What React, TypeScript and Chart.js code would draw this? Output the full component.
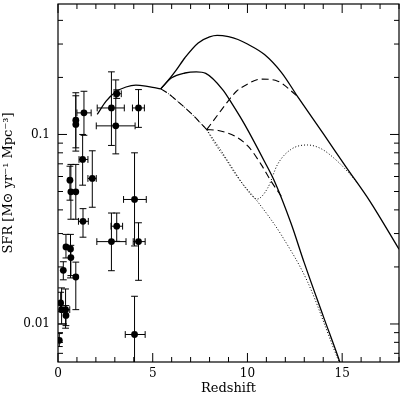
import React, { useEffect, useRef } from 'react';
import { Chart, registerables } from 'chart.js';

Chart.register(...registerables);

// ---- tick labels ----
const xTickLabels = [0, 5, 10, 15];
const yTickLabels = [0.01, 0.1];

// ---- model curves (redshift, SFR) ----
// common rising part (all models coincide)
const commonZ = [2.07, 2.54, 3.06, 3.59, 4.11, 4.63, 5.16, 5.42];
const commonSFR = [0.1276, 0.15, 0.168, 0.178, 0.182, 0.18, 0.176, 0.174];

// solid, upper branch
const solidUpZ = [5.42, 5.7, 6.2, 6.7, 7.4, 8.0, 8.4, 9.0, 9.5, 10.0, 10.9, 11.8, 12.64, 14.03, 15.2, 16.46, 18];
const solidUpSFR = [0.174, 0.187, 0.216, 0.254, 0.304, 0.327, 0.333, 0.328, 0.317, 0.3, 0.264, 0.212, 0.159, 0.1, 0.0675, 0.0445, 0.0248];

// solid, lower branch
const solidLowZ = [5.42, 6.0, 6.7, 7.3, 7.8, 8.7, 9.2, 9.85, 10.9, 11.45, 12.3, 13.0, 14.0, 14.9, 15.2];
const solidLowSFR = [0.174, 0.199, 0.211, 0.214, 0.21, 0.172, 0.1445, 0.113, 0.072, 0.056, 0.034, 0.021, 0.011, 0.0062, 0.005];

// declining tail shared by dashed and dotted models
const tailZ = [5.42, 5.8, 6.3, 7.07, 7.85];
const tailSFR = [0.174, 0.165, 0.15, 0.128, 0.106];

// dashed, upper branch
const dashUpZ = [7.85, 8.46, 8.98, 9.42, 9.9, 10.72, 11.6, 12.64];
const dashUpSFR = [0.106, 0.128, 0.15, 0.169, 0.182, 0.196, 0.191, 0.159];

// dashed, lower branch
const dashLowZ = [7.85, 8.46, 9.33, 10.03, 10.72, 11.24, 11.8];
const dashLowSFR = [0.106, 0.105, 0.098, 0.0868, 0.0695, 0.0568, 0.047];

// dotted, branch with a dip and second peak
const dotDipZ = [7.85, 8.63, 9.42, 10.03, 10.5, 11.07, 11.59, 12.29, 13.16, 13.9, 14.7, 15.3, 15.8];
const dotDipSFR = [0.106, 0.0816, 0.0615, 0.0502, 0.0456, 0.0522, 0.0695, 0.0833, 0.088, 0.084, 0.073, 0.0635, 0.0555];

// dotted, falling branch
const dotLowZ = [7.85, 8.3, 8.9, 9.5, 10.4, 11.24, 11.77, 13.16, 14.81, 15.1];
const dotLowSFR = [0.106, 0.089, 0.073, 0.059, 0.046, 0.0356, 0.0297, 0.0168, 0.0064, 0.0055];

// ---- observations ----
const ptZ = [0.07, 0.14, 0.19, 0.40, 0.42, 0.28, 0.42, 0.66, 0.68, 0.94, 0.68, 0.94, 0.63, 0.94, 0.94, 1.37, 1.30, 1.81, 1.32, 2.82, 3.10, 4.04, 4.25, 4.04, 2.82, 4.25, 3.05, 3.10];
const ptSFR = [0.0082, 0.0129, 0.0119, 0.0119, 0.0111, 0.0192, 0.0255, 0.0249, 0.0224, 0.0177, 0.0498, 0.0498, 0.0574, 0.119, 0.113, 0.130, 0.0738, 0.0586, 0.0348, 0.0272, 0.0328, 0.0454, 0.0272, 0.0088, 0.138, 0.138, 0.111, 0.164];
const ptSFRLo = [0.0076, 0.0116, 0.0100, 0.0095, 0.0098, 0.0171, 0.0223, 0.0175, 0.018, 0.0119, 0.0357, 0.0357, 0.045, 0.0817, 0.085, 0.099, 0.054, 0.0413, 0.0287, 0.0191, 0.0273, 0.0258, 0.017, 0.004, 0.0875, 0.109, 0.079, 0.155];
const ptSFRHi = [0.0089, 0.0147, 0.0155, 0.0153, 0.0125, 0.0213, 0.0297, 0.0297, 0.026, 0.0212, 0.0695, 0.0695, 0.068, 0.166, 0.160, 0.169, 0.100, 0.082, 0.0406, 0.0385, 0.0385, 0.080, 0.0342, 0.014, 0.214, 0.1725, 0.194, 0.172];
const ptZLo: (number | null)[] = [null, null, null, 0.15, null, null, null, null, null, null, null, null, null, null, null, 1.0, 1.11, 1.58, 1.08, 2.05, 2.8, 3.46, 3.97, 3.55, 2.07, 3.93, 2.02, 2.96];
const ptZHi: (number | null)[] = [null, null, null, 0.62, null, null, null, null, null, null, null, null, null, null, null, 1.75, 1.58, 2.02, 1.6, 3.59, 3.41, 4.66, 4.6, 4.6, 3.5, 4.56, 4.07, 3.34];

const toXY = (zs: number[], vs: number[]) => zs.map((z, i) => ({ x: z, y: vs[i] }));

const FONT = 'DejaVu Serif';

const errorBarPlugin = {
  id: 'errorBars',
  beforeDatasetsDraw(chart: any) {
    const { ctx, chartArea: a, scales } = chart;
    const x = scales.x, y = scales.y;
    const cap = 3.4;
    ctx.save();
    ctx.beginPath();
    ctx.rect(a.left, a.top, a.right - a.left, a.bottom - a.top);
    ctx.clip();
    ctx.strokeStyle = '#000';
    ctx.lineWidth = 1;
    ctx.beginPath();
    for (let i = 0; i < ptZ.length; i++) {
      const px = x.getPixelForValue(ptZ[i]);
      const py = y.getPixelForValue(ptSFR[i]);
      const yt = y.getPixelForValue(ptSFRHi[i]);
      const yb = y.getPixelForValue(ptSFRLo[i]);
      ctx.moveTo(px, yt); ctx.lineTo(px, yb);
      ctx.moveTo(px - cap, yt); ctx.lineTo(px + cap, yt);
      ctx.moveTo(px - cap, yb); ctx.lineTo(px + cap, yb);
      const zl = ptZLo[i], zh = ptZHi[i];
      if (zl != null && zh != null) {
        const xl = x.getPixelForValue(zl);
        const xr = x.getPixelForValue(zh);
        ctx.moveTo(xl, py); ctx.lineTo(xr, py);
        ctx.moveTo(xl, py - cap); ctx.lineTo(xl, py + cap);
        ctx.moveTo(xr, py - cap); ctx.lineTo(xr, py + cap);
      }
    }
    ctx.stroke();
    ctx.restore();
  },
};

const framePlugin = {
  id: 'frameTicks',
  afterDatasetsDraw(chart: any) {
    const { ctx, chartArea: a, scales } = chart;
    const x = scales.x, y = scales.y;
    ctx.save();
    ctx.strokeStyle = '#000';
    ctx.lineWidth = 1.2;
    ctx.strokeRect(a.left, a.top, a.right - a.left, a.bottom - a.top);
    ctx.lineWidth = 1;
    ctx.beginPath();
    for (let v = Math.ceil(x.min); v <= x.max; v++) {
      const px = x.getPixelForValue(v);
      const len = xTickLabels.includes(v) ? 9 : 5;
      ctx.moveTo(px, a.bottom); ctx.lineTo(px, a.bottom - len);
      ctx.moveTo(px, a.top); ctx.lineTo(px, a.top + len);
    }
    for (let e = -3; e <= 0; e++) {
      for (let m = 1; m <= 9; m++) {
        const v = m * Math.pow(10, e);
        if (v < y.min || v > y.max) continue;
        const py = y.getPixelForValue(v);
        const len = m === 1 ? 9 : 5;
        ctx.moveTo(a.left, py); ctx.lineTo(a.left + len, py);
        ctx.moveTo(a.right, py); ctx.lineTo(a.right - len, py);
      }
    }
    ctx.stroke();
    ctx.restore();
  },
};

const lineDs = (zs: number[], vs: number[], dash: number[], width: number) => ({
  type: 'line' as const,
  data: toXY(zs, vs),
  borderColor: '#000',
  borderWidth: width,
  borderDash: dash,
  pointRadius: 0,
  fill: false,
  cubicInterpolationMode: 'monotone' as const,
});

const zeroPad = (s: any) => {
  s.paddingTop = 0;
  s.paddingBottom = 0;
  s.paddingLeft = 0;
  s.paddingRight = 0;
};

export default function App() {
  const ref = useRef<HTMLCanvasElement | null>(null);
  useEffect(() => {
    if (!ref.current) return;
    const chart = new Chart(ref.current, {
      type: 'scatter',
      data: {
        datasets: [
          lineDs(tailZ, tailSFR, [7, 4], 1.1),
          lineDs(tailZ, tailSFR, [1, 2], 1),
          lineDs(dotDipZ, dotDipSFR, [1, 2], 1),
          lineDs(dotLowZ, dotLowSFR, [1, 2], 1),
          lineDs(dashUpZ, dashUpSFR, [7, 4], 1.1),
          lineDs(dashLowZ, dashLowSFR, [7, 4], 1.1),
          lineDs(commonZ, commonSFR, [], 1.3),
          lineDs(solidUpZ, solidUpSFR, [], 1.3),
          lineDs(solidLowZ, solidLowSFR, [], 1.3),
          {
            type: 'scatter' as const,
            data: toXY(ptZ, ptSFR),
            pointRadius: 3.4,
            pointBackgroundColor: '#000',
            pointBorderWidth: 0,
            showLine: false,
          } as any,
        ],
      },
      options: {
        animation: false,
        responsive: false,
        events: [],
        layout: { padding: { top: 2, right: 1, left: 0, bottom: 0 } },
        plugins: { legend: { display: false }, tooltip: { enabled: false } },
        scales: {
          x: {
            type: 'linear',
            min: 0,
            max: 18,
            grid: { display: false, drawTicks: false },
            border: { display: false },
            afterBuildTicks: (s: any) => { s.ticks = xTickLabels.map((v) => ({ value: v })); },
            afterFit: (s: any) => { s.height = 33; zeroPad(s); },
            ticks: { padding: 5, color: '#000', font: { family: FONT, size: 12 }, maxRotation: 0, autoSkip: false, callback: (v: any) => String(v) },
            title: { display: true, text: 'Redshift', color: '#000', font: { family: FONT, size: 13 }, padding: { top: 0, bottom: -1 } },
          },
          y: {
            type: 'logarithmic',
            min: 0.0063,
            max: 0.488,
            grid: { display: false, drawTicks: false },
            border: { display: false },
            afterBuildTicks: (s: any) => { s.ticks = yTickLabels.map((v) => ({ value: v })); },
            afterFit: (s: any) => { s.width = 58; zeroPad(s); },
            ticks: { padding: 8, color: '#000', font: { family: FONT, size: 12 }, autoSkip: false, callback: (v: any) => String(v) },
            title: { display: true, text: 'SFR [M\u2299 yr\u207B\u00B9 Mpc\u207B\u00B3]', color: '#000', font: { family: FONT, size: 13 }, padding: { top: 1, bottom: 0 } },
          },
        },
      } as any,
      plugins: [errorBarPlugin, framePlugin],
    });
    return () => chart.destroy();
  }, []);
  return (
    <div style={{ position: 'fixed', left: 0, top: 0, width: 403, height: 395, background: '#fff' }}>
      <canvas ref={ref} width={403} height={395} style={{ display: 'block' }} />
    </div>
  );
}
